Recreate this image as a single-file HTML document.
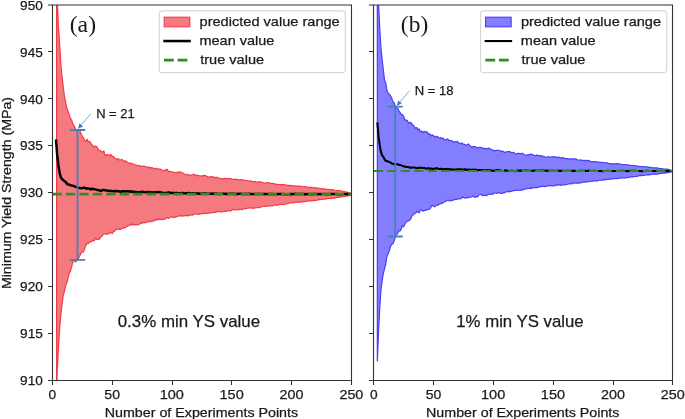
<!DOCTYPE html><html><head><meta charset="utf-8"><style>html,body{margin:0;padding:0;background:#fff;overflow:hidden}svg{display:block;filter:blur(0.3px)}text{font-family:"Liberation Sans",sans-serif}</style></head><body>
<svg width="685" height="419" viewBox="0 0 685 419">
<rect width="685" height="419" fill="#fff"/>
<clipPath id="ca"><rect x="52.4" y="5" width="299.1" height="375.4"/></clipPath>
<g clip-path="url(#ca)">
<path d="M56.59 -37.36 L57.19 -1 L58.38 25.79 L59.58 42.49 L60.77 63.52 L61.97 76.18 L63.17 86.09 L64.36 95.85 L65.56 102.02 L66.76 107.79 L67.95 111.05 L69.15 114.41 L70.35 117.93 L71.54 119.98 L72.74 123.38 L73.94 125.44 L75.13 128.26 L76.33 131.09 L77.52 129.73 L78.72 130.28 L79.92 130.74 L81.11 133.85 L82.31 136.27 L83.51 137.82 L84.7 140.58 L85.9 141.37 L87.1 139.37 L88.29 141.85 L89.49 141.45 L90.68 142.67 L91.88 145.04 L93.08 145.54 L94.27 146.91 L95.47 146.03 L96.67 146.51 L97.86 149 L99.06 150.28 L100.26 150.53 L101.45 151.41 L102.65 152.08 L103.85 150.79 L105.04 155.6 L106.24 154.7 L107.43 154.8 L108.63 154.75 L109.83 155.71 L111.02 154.47 L112.22 156.69 L113.42 156.4 L114.61 158.12 L115.81 158.76 L117.01 159.64 L118.2 158.44 L119.4 160.2 L120.59 159.99 L121.79 159.37 L122.99 160.39 L124.18 161.71 L125.38 160.67 L126.58 161.68 L127.77 162.64 L128.97 162.96 L130.17 163.32 L131.36 163.13 L132.56 164.25 L133.76 164.1 L134.95 164.71 L136.15 165.01 L137.34 165.53 L138.54 165.51 L139.74 165.48 L140.93 166.57 L142.13 166.39 L143.33 166.2 L144.52 166.21 L145.72 166.71 L146.92 167.2 L148.11 166.99 L149.31 167.18 L150.5 168.04 L151.7 167.62 L152.9 168.04 L154.09 168.73 L155.29 168.41 L156.49 168.63 L157.68 168.76 L158.88 169.05 L160.08 169.17 L161.27 169.55 L162.47 170.25 L163.67 170.8 L164.86 170.41 L166.06 169.46 L167.25 169.4 L168.45 171.71 L169.65 171.22 L170.84 171.52 L172.04 172.04 L173.24 172.15 L174.43 172.18 L175.63 172.68 L176.83 172.59 L178.02 172.15 L179.22 171.83 L180.41 172.23 L181.61 172.22 L182.81 172.91 L184 173.73 L185.2 174.74 L186.4 174.62 L187.59 174.4 L188.79 175.16 L189.99 174.94 L191.18 175.55 L192.38 174.73 L193.58 174.22 L194.77 174.79 L195.97 175.67 L197.16 175.19 L198.36 175.48 L199.56 176.02 L200.75 175.88 L201.95 175.73 L203.15 175.86 L204.34 175.32 L205.54 175.59 L206.74 176.31 L207.93 176.84 L209.13 177.1 L210.32 176.83 L211.52 176.6 L212.72 177.03 L213.91 176.97 L215.11 177.6 L216.31 177.47 L217.5 177.42 L218.7 177.97 L219.9 178.48 L221.09 178.67 L222.29 178.58 L223.49 178.91 L224.68 178.25 L225.88 179.09 L227.07 178.52 L228.27 178.22 L229.47 178.73 L230.66 178.52 L231.86 179.35 L233.06 179.23 L234.25 179.45 L235.45 179.21 L236.65 179.38 L237.84 179.7 L239.04 179.78 L240.23 179.87 L241.43 179.53 L242.63 179.65 L243.82 180.5 L245.02 180.21 L246.22 180.56 L247.41 180.74 L248.61 180.96 L249.81 181.09 L251 180.97 L252.2 181.77 L253.4 181.6 L254.59 181.63 L255.79 181.71 L256.98 182.02 L258.18 182.19 L259.38 181.87 L260.57 181.85 L261.77 182.22 L262.97 182.61 L264.16 182.81 L265.36 183.21 L266.56 182.92 L267.75 182.65 L268.95 182.74 L270.14 183.53 L271.34 183.41 L272.54 183.42 L273.73 183.69 L274.93 184.03 L276.13 184.11 L277.32 184.53 L278.52 184.51 L279.72 184.4 L280.91 184.69 L282.11 184.53 L283.31 184.84 L284.5 184.39 L285.7 185.09 L286.89 185.53 L288.09 185.2 L289.29 185.66 L290.48 185.39 L291.68 185.58 L292.88 185.83 L294.07 185.8 L295.27 186.15 L296.47 186.01 L297.66 186.07 L298.86 186.11 L300.05 186.04 L301.25 186.4 L302.45 186.67 L303.64 186.77 L304.84 186.55 L306.04 186.93 L307.23 187.35 L308.43 187.14 L309.63 187.53 L310.82 187.47 L312.02 187.41 L313.22 187.75 L314.41 187.9 L315.61 187.69 L316.8 187.93 L318 188 L319.2 188.23 L320.39 188.51 L321.59 188.8 L322.79 188.83 L323.98 188.66 L325.18 189.01 L326.38 189.29 L327.57 189.38 L328.77 189.54 L329.96 189.74 L331.16 189.62 L332.36 189.86 L333.55 189.93 L334.75 190.24 L335.95 190.49 L337.14 190.63 L338.34 190.72 L339.54 190.64 L340.73 190.92 L341.93 191.15 L343.13 191.37 L344.32 191.54 L345.52 191.88 L346.71 192.06 L347.91 192.38 L349.11 192.85 L350.3 193.26 L351.5 193.3 L351.5 194.9 L350.3 195.22 L349.11 195.45 L347.91 195.85 L346.71 195.95 L345.52 196.29 L344.32 196.5 L343.13 196.77 L341.93 196.72 L340.73 196.93 L339.54 197.34 L338.34 197.43 L337.14 197.42 L335.95 197.68 L334.75 198.07 L333.55 198 L332.36 198.2 L331.16 198.55 L329.96 198.26 L328.77 198.5 L327.57 198.53 L326.38 198.91 L325.18 199.04 L323.98 199.21 L322.79 199.54 L321.59 199.26 L320.39 199.75 L319.2 199.43 L318 199.84 L316.8 200.09 L315.61 200.5 L314.41 200.56 L313.22 200.41 L312.02 200.6 L310.82 200.97 L309.63 200.91 L308.43 200.95 L307.23 201.04 L306.04 201.49 L304.84 201.59 L303.64 201.53 L302.45 201.96 L301.25 202.12 L300.05 201.69 L298.86 202.4 L297.66 202.27 L296.47 202.09 L295.27 202.1 L294.07 202.93 L292.88 202.6 L291.68 202.3 L290.48 202.89 L289.29 203.2 L288.09 203.18 L286.89 203.72 L285.7 203.98 L284.5 204.57 L283.31 204.44 L282.11 204.36 L280.91 204.34 L279.72 204.51 L278.52 204.62 L277.32 205.09 L276.13 205.14 L274.93 204.6 L273.73 205.56 L272.54 205.82 L271.34 205.8 L270.14 205.85 L268.95 205.81 L267.75 206.28 L266.56 206.11 L265.36 206.29 L264.16 206.12 L262.97 206.27 L261.77 206.79 L260.57 207.16 L259.38 207.57 L258.18 207.76 L256.98 207.76 L255.79 207.57 L254.59 208.28 L253.4 208.06 L252.2 207.81 L251 208.04 L249.81 207.54 L248.61 208.19 L247.41 208.19 L246.22 208.57 L245.02 208.62 L243.82 208.63 L242.63 209.58 L241.43 209.32 L240.23 209.28 L239.04 209.59 L237.84 209.58 L236.65 209.83 L235.45 209.98 L234.25 209.43 L233.06 209.59 L231.86 209.93 L230.66 211.02 L229.47 210.89 L228.27 210.4 L227.07 210.91 L225.88 211.43 L224.68 211.33 L223.49 211.27 L222.29 211.62 L221.09 211.85 L219.9 211.7 L218.7 211.77 L217.5 211.38 L216.31 211.84 L215.11 212.57 L213.91 212.35 L212.72 212.23 L211.52 213.01 L210.32 213 L209.13 212.82 L207.93 213.51 L206.74 213.44 L205.54 213.39 L204.34 213.23 L203.15 213.57 L201.95 213.66 L200.75 213.79 L199.56 214.19 L198.36 214.4 L197.16 213.95 L195.97 213.57 L194.77 214.24 L193.58 214.33 L192.38 215.24 L191.18 214.68 L189.99 215.23 L188.79 215.43 L187.59 216.03 L186.4 215.26 L185.2 215.97 L184 215.36 L182.81 216.2 L181.61 215.95 L180.41 215.7 L179.22 215.84 L178.02 216.17 L176.83 216.66 L175.63 216.9 L174.43 217.44 L173.24 217.55 L172.04 216.77 L170.84 216.84 L169.65 217.91 L168.45 218.36 L167.25 217.43 L166.06 218.66 L164.86 218.81 L163.67 219.38 L162.47 219.53 L161.27 219.04 L160.08 219.69 L158.88 219.12 L157.68 219.33 L156.49 220.3 L155.29 219.48 L154.09 220.68 L152.9 221.1 L151.7 220.9 L150.5 221.9 L149.31 221.16 L148.11 221.41 L146.92 222.47 L145.72 222.18 L144.52 222.98 L143.33 222.44 L142.13 223.29 L140.93 222.92 L139.74 223.71 L138.54 224.66 L137.34 224.84 L136.15 224.72 L134.95 224.43 L133.76 225.12 L132.56 223.64 L131.36 225.17 L130.17 224.59 L128.97 225.46 L127.77 225.98 L126.58 226.81 L125.38 227.52 L124.18 228.05 L122.99 227.95 L121.79 228.43 L120.59 229.39 L119.4 229.36 L118.2 228.93 L117.01 229.27 L115.81 229.63 L114.61 231.08 L113.42 231.46 L112.22 233.68 L111.02 232.59 L109.83 232.64 L108.63 233.95 L107.43 233.61 L106.24 234.3 L105.04 234.04 L103.85 233.47 L102.65 235.22 L101.45 236.59 L100.26 237.66 L99.06 239.59 L97.86 238.98 L96.67 239.46 L95.47 237.78 L94.27 240.74 L93.08 240.2 L91.88 241.36 L90.68 241.83 L89.49 241.75 L88.29 243.73 L87.1 243.18 L85.9 245.34 L84.7 248.45 L83.51 251.83 L82.31 251.87 L81.11 253.02 L79.92 255.41 L78.72 257.93 L77.52 258.81 L76.33 261.34 L75.13 261.82 L73.94 259.25 L72.74 262.45 L71.54 267.31 L70.35 271.46 L69.15 273.16 L67.95 278.66 L66.76 282.83 L65.56 285.88 L64.36 291.63 L63.17 295.86 L61.97 304.8 L60.77 315.46 L59.58 329.45 L58.38 349.01 L57.19 372.17 L56.59 405.62Z" fill="#f47a80" stroke="#f43a47" stroke-width="1.2" stroke-linejoin="round"/>
<path d="M55.99 139.5 L57.19 155 L58.38 165 L59.58 172.6 L60.77 177.07 L61.97 179.09 L63.17 180.07 L64.36 181.17 L65.56 181.76 L66.76 183.59 L67.95 184.5 L69.15 184.58 L70.35 185.15 L71.54 185.47 L72.74 185.76 L73.94 186.06 L75.13 186.54 L76.33 187.11 L77.52 187.65 L78.72 187.88 L79.92 187.92 L81.11 188.22 L82.31 188.08 L83.51 187.7 L84.7 187.73 L85.9 188.62 L87.1 188.17 L88.29 188.42 L89.49 188.87 L90.68 189.41 L91.88 188.7 L93.08 188.9 L94.27 189.17 L95.47 189.36 L96.67 189.7 L97.86 190.13 L99.06 190.25 L100.26 190.72 L101.45 190.67 L102.65 190.11 L103.85 189.97 L105.04 190.24 L106.24 190.38 L107.43 190.77 L108.63 190.86 L109.83 190.99 L111.02 190.93 L112.22 191.07 L113.42 191.17 L114.61 191.11 L115.81 191.28 L117.01 190.95 L118.2 191.37 L119.4 191.45 L120.59 191.97 L121.79 191.55 L122.99 191.15 L124.18 191.24 L125.38 191.39 L126.58 191.35 L127.77 191.27 L128.97 191.45 L130.17 191.32 L131.36 191.83 L132.56 191.47 L133.76 191.82 L134.95 192.04 L136.15 192.02 L137.34 192.24 L138.54 192.13 L139.74 192.23 L140.93 191.92 L142.13 191.78 L143.33 191.91 L144.52 192.11 L145.72 192.37 L146.92 192.02 L148.11 192.06 L149.31 192.06 L150.5 192.41 L151.7 192.26 L152.9 192.59 L154.09 192.41 L155.29 192.3 L156.49 192.3 L157.68 192.12 L158.88 191.9 L160.08 192.28 L161.27 192.39 L162.47 193.02 L163.67 192.9 L164.86 192.98 L166.06 192.88 L167.25 192.81 L168.45 192.55 L169.65 192.54 L170.84 193.1 L172.04 192.9 L173.24 192.87 L174.43 193.13 L175.63 193.02 L176.83 193.01 L178.02 193.48 L179.22 193.31 L180.41 193.13 L181.61 193.09 L182.81 193.03 L184 193.25 L185.2 193.38 L186.4 193.21 L187.59 193.24 L188.79 193 L189.99 193.21 L191.18 193.49 L192.38 193.26 L193.58 193.38 L194.77 193.32 L195.97 193.41 L197.16 193.54 L198.36 193.47 L199.56 193.68 L200.75 193.76 L201.95 193.79 L203.15 193.59 L204.34 193.43 L205.54 193.53 L206.74 193.63 L207.93 193.65 L209.13 193.65 L210.32 193.68 L211.52 193.66 L212.72 193.76 L213.91 193.58 L215.11 193.72 L216.31 193.78 L217.5 193.7 L218.7 194.11 L219.9 193.9 L221.09 193.84 L222.29 193.68 L223.49 193.78 L224.68 193.82 L225.88 193.93 L227.07 193.81 L228.27 193.94 L229.47 193.74 L230.66 193.82 L231.86 193.67 L233.06 193.81 L234.25 193.93 L235.45 193.75 L236.65 193.92 L237.84 193.96 L239.04 193.77 L240.23 193.78 L241.43 193.84 L242.63 193.96 L243.82 194.1 L245.02 193.94 L246.22 193.87 L247.41 193.91 L248.61 193.69 L249.81 193.96 L251 193.97 L252.2 193.96 L253.4 194.13 L254.59 194.01 L255.79 193.93 L256.98 194.09 L258.18 193.98 L259.38 194.01 L260.57 193.98 L261.77 194 L262.97 194.03 L264.16 194.05 L265.36 193.91 L266.56 194.12 L267.75 194.01 L268.95 193.97 L270.14 194.09 L271.34 194 L272.54 194.06 L273.73 194.15 L274.93 194.15 L276.13 194.02 L277.32 194.13 L278.52 194.04 L279.72 193.95 L280.91 193.93 L282.11 194.03 L283.31 193.97 L284.5 194.15 L285.7 194.15 L286.89 194.13 L288.09 194.18 L289.29 194.18 L290.48 194 L291.68 194.28 L292.88 193.97 L294.07 194.04 L295.27 193.86 L296.47 193.96 L297.66 193.98 L298.86 193.89 L300.05 194.06 L301.25 194.06 L302.45 194.06 L303.64 193.95 L304.84 194.16 L306.04 194.07 L307.23 194.13 L308.43 193.93 L309.63 194.16 L310.82 194.06 L312.02 194.16 L313.22 194.05 L314.41 194.05 L315.61 194.11 L316.8 194.08 L318 194.28 L319.2 194.12 L320.39 194.06 L321.59 194.18 L322.79 194.12 L323.98 194 L325.18 194.03 L326.38 194.14 L327.57 194.1 L328.77 194.2 L329.96 194 L331.16 194.09 L332.36 194.01 L333.55 194.03 L334.75 194.01 L335.95 193.98 L337.14 194.29 L338.34 194.17 L339.54 194.19 L340.73 194.16 L341.93 194.31 L343.13 194.11 L344.32 193.97 L345.52 194.12 L346.71 194.01 L347.91 194.22 L349.11 194.05 L350.3 194.06 L351.5 194.16" fill="none" stroke="#000" stroke-width="2.5" stroke-linejoin="round"/>
<line x1="52.4" y1="194.1" x2="351.5" y2="194.1" stroke="#318c22" stroke-width="2.6" stroke-dasharray="9.4 4.05"/>
</g>
<path d="M52.5 5H351.5V380.5H52.5Z" fill="none" stroke="#333" stroke-width="1.1"/>
<path d="M48 380.5H52.5M48 333.5H52.5M48 286.5H52.5M48 239.5H52.5M48 192.5H52.5M48 145.5H52.5M48 98.5H52.5M48 51.5H52.5M48 5H52.5M52.5 380.5V385M112.5 380.5V385M172.5 380.5V385M231.5 380.5V385M291.5 380.5V385M351.5 380.5V385" stroke="#333" stroke-width="1.05" fill="none"/>
<rect x="159.2" y="10.9" width="186.2" height="61.8" rx="3.5" fill="#fff" fill-opacity="0.8" stroke="#d8d8d8" stroke-width="1.2"/>
<rect x="164.2" y="17.2" width="25.6" height="9.6" fill="#f47a80" stroke="#f43a47" stroke-width="1.1"/>
<line x1="163.3" y1="41.05" x2="190.8" y2="41.05" stroke="#000" stroke-width="2.55"/>
<line x1="164" y1="60.1" x2="190.6" y2="60.1" stroke="#318c22" stroke-width="2.6" stroke-dasharray="9.8 3.8"/>
<clipPath id="cb"><rect x="373.75" y="5" width="299.1" height="375.4"/></clipPath>
<g clip-path="url(#cb)">
<path d="M377.34 -28.44 L378.54 2.68 L379.73 28.23 L380.93 47.79 L382.12 59.28 L383.32 69.45 L384.52 80.15 L385.71 82.8 L386.91 89.93 L388.11 93.2 L389.3 94.15 L390.5 95.78 L391.7 98.14 L392.89 101.8 L394.09 102.77 L395.29 105.9 L396.48 107.76 L397.68 108.24 L398.87 110.73 L400.07 112.61 L401.27 114.45 L402.46 114.71 L403.66 116.28 L404.86 120.02 L406.05 120.13 L407.25 120.36 L408.45 123.16 L409.64 122.65 L410.84 122.38 L412.03 124.2 L413.23 124.97 L414.43 126.81 L415.62 128.46 L416.82 127.51 L418.02 130.12 L419.21 128.97 L420.41 131.74 L421.61 131.1 L422.8 132.45 L424 131.38 L425.2 132.02 L426.39 131.46 L427.59 132.42 L428.78 134.7 L429.98 133.78 L431.18 136.01 L432.37 134.95 L433.57 135.66 L434.77 137.03 L435.96 136.41 L437.16 136.64 L438.36 137.13 L439.55 138.13 L440.75 137.52 L441.94 138.9 L443.14 138.01 L444.34 139.88 L445.53 139.93 L446.73 139.14 L447.93 139.19 L449.12 140.77 L450.32 140.29 L451.52 140.84 L452.71 141.36 L453.91 141.95 L455.11 141.88 L456.3 141.94 L457.5 141.39 L458.69 142.87 L459.89 143.32 L461.09 143.84 L462.28 142.93 L463.48 144.51 L464.68 144.38 L465.87 145 L467.07 145 L468.27 143.98 L469.46 145.46 L470.66 145.97 L471.85 147.67 L473.05 146.42 L474.25 146.72 L475.44 146.5 L476.64 147.92 L477.84 147.87 L479.03 147.27 L480.23 147.22 L481.43 147.56 L482.62 148.08 L483.82 148.57 L485.02 148.42 L486.21 148.94 L487.41 148.7 L488.6 147.93 L489.8 148.65 L491 149.39 L492.19 149.73 L493.39 150.77 L494.59 150.26 L495.78 150.94 L496.98 150.26 L498.18 150.04 L499.37 150.73 L500.57 150.74 L501.76 151.58 L502.96 151.16 L504.16 152.39 L505.35 152.12 L506.55 151.91 L507.75 151.48 L508.94 151.59 L510.14 151.59 L511.34 152.59 L512.53 152.67 L513.73 152.26 L514.93 153.7 L516.12 154.11 L517.32 153.47 L518.51 153.46 L519.71 153.51 L520.91 153.67 L522.1 153.2 L523.3 153.96 L524.5 154.76 L525.69 155.16 L526.89 155.09 L528.09 154.76 L529.28 154.87 L530.48 154.11 L531.67 154.39 L532.87 154.83 L534.07 155.19 L535.26 155.79 L536.46 155.12 L537.66 155.32 L538.85 155.41 L540.05 156.13 L541.25 155.58 L542.44 156.1 L543.64 156.58 L544.84 156.73 L546.03 157.27 L547.23 156.97 L548.42 156.5 L549.62 157.41 L550.82 156.98 L552.01 156.76 L553.21 156.82 L554.41 156.71 L555.6 157.05 L556.8 157.11 L558 157.6 L559.19 157.16 L560.39 157.55 L561.58 158.2 L562.78 157.65 L563.98 157.95 L565.17 158.58 L566.37 158.52 L567.57 158.68 L568.76 159.1 L569.96 158.78 L571.16 159.25 L572.35 158.49 L573.55 158.88 L574.75 159.11 L575.94 158.97 L577.14 159.49 L578.33 160.26 L579.53 160.01 L580.73 159.75 L581.92 160.48 L583.12 160.37 L584.32 160.61 L585.51 160.13 L586.71 160.9 L587.91 160.53 L589.1 160.46 L590.3 161.19 L591.49 161.85 L592.69 161.65 L593.89 161.83 L595.08 161.69 L596.28 161.68 L597.48 161.99 L598.67 162.09 L599.87 162.37 L601.07 162.43 L602.26 162.5 L603.46 162.64 L604.66 162.65 L605.85 162.73 L607.05 162.83 L608.24 163.46 L609.44 163.54 L610.64 163.68 L611.83 163.79 L613.03 163.77 L614.23 163.92 L615.42 163.79 L616.62 163.62 L617.82 163.95 L619.01 163.8 L620.21 163.95 L621.4 164.31 L622.6 164.54 L623.8 164.53 L624.99 164.76 L626.19 164.66 L627.39 164.92 L628.58 165.17 L629.78 165.1 L630.98 165.54 L632.17 165.51 L633.37 165.5 L634.57 165.57 L635.76 165.78 L636.96 166.01 L638.15 166.31 L639.35 166.31 L640.55 166.47 L641.74 166.64 L642.94 166.58 L644.14 166.77 L645.33 166.6 L646.53 166.73 L647.73 167.05 L648.92 167.1 L650.12 167.58 L651.31 167.47 L652.51 167.86 L653.71 167.91 L654.9 167.92 L656.1 167.93 L657.3 167.91 L658.49 168.35 L659.69 168.55 L660.89 168.58 L662.08 168.61 L663.28 168.92 L664.48 169 L665.67 169.12 L666.87 169.19 L668.06 169.43 L669.26 169.67 L670.46 170.01 L671.65 170.41 L672.85 170.2 L672.85 171.8 L671.65 171.78 L670.46 172.02 L669.26 172.07 L668.06 172.52 L666.87 172.79 L665.67 172.85 L664.48 173.06 L663.28 173.2 L662.08 173.21 L660.89 173.51 L659.69 173.55 L658.49 173.81 L657.3 174.13 L656.1 174.16 L654.9 174.16 L653.71 174.08 L652.51 174.25 L651.31 174.37 L650.12 174.75 L648.92 174.91 L647.73 174.69 L646.53 175 L645.33 175.26 L644.14 175.17 L642.94 175.5 L641.74 175.6 L640.55 175.37 L639.35 175.65 L638.15 175.98 L636.96 176.3 L635.76 176.35 L634.57 176.55 L633.37 176.64 L632.17 176.91 L630.98 176.9 L629.78 177.07 L628.58 177.43 L627.39 177.75 L626.19 177.51 L624.99 178.06 L623.8 177.88 L622.6 178 L621.4 178 L620.21 177.92 L619.01 178.43 L617.82 178.49 L616.62 178.62 L615.42 178.65 L614.23 178.77 L613.03 178.66 L611.83 179.19 L610.64 178.66 L609.44 179.43 L608.24 179.36 L607.05 179.33 L605.85 179.68 L604.66 179.94 L603.46 179.66 L602.26 180.1 L601.07 180.2 L599.87 180.27 L598.67 180.32 L597.48 180.79 L596.28 180.79 L595.08 180.93 L593.89 180.97 L592.69 181.19 L591.49 181.11 L590.3 181.53 L589.1 181.77 L587.91 181.81 L586.71 181.51 L585.51 182.12 L584.32 181.84 L583.12 182.26 L581.92 182.35 L580.73 182.97 L579.53 182.58 L578.33 183.14 L577.14 183.12 L575.94 183.19 L574.75 183.16 L573.55 182.75 L572.35 183.8 L571.16 183.47 L569.96 183.86 L568.76 183.93 L567.57 184.22 L566.37 184.6 L565.17 184.53 L563.98 184.87 L562.78 184.79 L561.58 185.2 L560.39 185.46 L559.19 184.47 L558 185.08 L556.8 185.49 L555.6 184.83 L554.41 185.78 L553.21 185.8 L552.01 185.9 L550.82 185.6 L549.62 185.61 L548.42 185.83 L547.23 185.65 L546.03 186.52 L544.84 186.57 L543.64 186.46 L542.44 186.39 L541.25 186.58 L540.05 186.7 L538.85 186.87 L537.66 187.65 L536.46 187.66 L535.26 187.43 L534.07 187.96 L532.87 187.49 L531.67 188.34 L530.48 188.17 L529.28 188.38 L528.09 188.48 L526.89 188.74 L525.69 189.13 L524.5 188.77 L523.3 189.77 L522.1 190.16 L520.91 190.12 L519.71 190.3 L518.51 190.14 L517.32 189.9 L516.12 190.5 L514.93 190.26 L513.73 190.58 L512.53 191.02 L511.34 191.46 L510.14 191.3 L508.94 191.9 L507.75 191.24 L506.55 191.99 L505.35 192.01 L504.16 192.92 L502.96 192.67 L501.76 193.52 L500.57 193.36 L499.37 192.47 L498.18 192.92 L496.98 193.51 L495.78 192.75 L494.59 193.16 L493.39 193.4 L492.19 194.5 L491 194.51 L489.8 194.15 L488.6 194.12 L487.41 194.92 L486.21 195.74 L485.02 195.25 L483.82 195.46 L482.62 195.66 L481.43 194.49 L480.23 194.66 L479.03 194.76 L477.84 196.55 L476.64 196.49 L475.44 197.43 L474.25 196.97 L473.05 196.14 L471.85 196.73 L470.66 197.11 L469.46 197.29 L468.27 197.58 L467.07 197.43 L465.87 198.12 L464.68 197.91 L463.48 197.7 L462.28 196.83 L461.09 198.75 L459.89 199.01 L458.69 198.54 L457.5 199.14 L456.3 199.35 L455.11 199.33 L453.91 199.85 L452.71 200.28 L451.52 200.42 L450.32 201.01 L449.12 200.8 L447.93 200 L446.73 200.68 L445.53 201.56 L444.34 202.04 L443.14 202.45 L441.94 203.57 L440.75 203.32 L439.55 203.74 L438.36 205.11 L437.16 205.14 L435.96 205.37 L434.77 206.82 L433.57 206.31 L432.37 205.13 L431.18 206.93 L429.98 208.54 L428.78 209.52 L427.59 209.55 L426.39 210.1 L425.2 210.35 L424 210.62 L422.8 211.2 L421.61 210 L420.41 209.8 L419.21 212.7 L418.02 212.38 L416.82 211.32 L415.62 213.07 L414.43 213.36 L413.23 214.91 L412.03 215.88 L410.84 218.72 L409.64 220.28 L408.45 220.99 L407.25 221.16 L406.05 222 L404.86 224.27 L403.66 226.75 L402.46 225.67 L401.27 229.17 L400.07 231.04 L398.87 230.42 L397.68 233.41 L396.48 234.78 L395.29 236.77 L394.09 241.45 L392.89 243.83 L391.7 244.52 L390.5 246.49 L389.3 250.72 L388.11 253.71 L386.91 256.39 L385.71 264.1 L384.52 268.91 L383.32 273.61 L382.12 281.19 L380.93 290.35 L379.73 308.3 L378.54 331.83 L377.34 361Z" fill="#837efd" stroke="#4b3df8" stroke-width="1.2" stroke-linejoin="round"/>
<path d="M377.34 122.3 L378.54 136.3 L379.73 144.88 L380.93 151.87 L382.12 155.36 L383.32 156.74 L384.52 159.19 L385.71 160.9 L386.91 160.98 L388.11 161.43 L389.3 162.1 L390.5 162.53 L391.7 163.57 L392.89 163.67 L394.09 164.05 L395.29 164.74 L396.48 164.02 L397.68 164.24 L398.87 164.93 L400.07 165.08 L401.27 165.38 L402.46 165.85 L403.66 166.27 L404.86 166.72 L406.05 166.79 L407.25 167.05 L408.45 167.04 L409.64 167.61 L410.84 167.69 L412.03 167.44 L413.23 167.45 L414.43 167.55 L415.62 167.78 L416.82 168.31 L418.02 168.31 L419.21 167.42 L420.41 167.88 L421.61 167.61 L422.8 168.08 L424 168.06 L425.2 168.35 L426.39 168.77 L427.59 168.24 L428.78 168.18 L429.98 168.88 L431.18 168.47 L432.37 169.03 L433.57 168.79 L434.77 168.62 L435.96 168.36 L437.16 168.28 L438.36 168.75 L439.55 169.14 L440.75 168.84 L441.94 168.87 L443.14 169.26 L444.34 168.93 L445.53 168.9 L446.73 168.89 L447.93 169.18 L449.12 169.26 L450.32 168.95 L451.52 169.89 L452.71 169.31 L453.91 169.68 L455.11 169.57 L456.3 169.52 L457.5 169.21 L458.69 169.31 L459.89 169.37 L461.09 169.16 L462.28 169.84 L463.48 169.46 L464.68 169.16 L465.87 170.06 L467.07 169.55 L468.27 170.09 L469.46 169.45 L470.66 170.19 L471.85 169.59 L473.05 169.56 L474.25 169.94 L475.44 169.51 L476.64 169.97 L477.84 170.36 L479.03 170.06 L480.23 169.94 L481.43 170.07 L482.62 170.14 L483.82 170.19 L485.02 170.15 L486.21 170.16 L487.41 170 L488.6 170.28 L489.8 170.39 L491 170.25 L492.19 170.74 L493.39 170.75 L494.59 170.72 L495.78 170.3 L496.98 170.09 L498.18 170.21 L499.37 170.14 L500.57 170.43 L501.76 170.96 L502.96 170.98 L504.16 170.92 L505.35 170.18 L506.55 170.56 L507.75 170.76 L508.94 170.92 L510.14 170.74 L511.34 170.86 L512.53 170.74 L513.73 170.94 L514.93 171.23 L516.12 170.95 L517.32 170.57 L518.51 170.73 L519.71 170.48 L520.91 170.63 L522.1 170.8 L523.3 170.7 L524.5 170.54 L525.69 170.51 L526.89 170.46 L528.09 170.7 L529.28 170.66 L530.48 170.78 L531.67 170.85 L532.87 170.67 L534.07 170.56 L535.26 170.59 L536.46 170.67 L537.66 170.56 L538.85 170.79 L540.05 170.89 L541.25 170.46 L542.44 170.54 L543.64 170.57 L544.84 170.81 L546.03 170.64 L547.23 170.77 L548.42 170.65 L549.62 170.8 L550.82 170.74 L552.01 170.7 L553.21 170.83 L554.41 170.68 L555.6 170.89 L556.8 170.87 L558 170.81 L559.19 170.73 L560.39 170.74 L561.58 170.89 L562.78 170.64 L563.98 171.1 L565.17 170.84 L566.37 170.77 L567.57 170.73 L568.76 170.77 L569.96 170.67 L571.16 170.78 L572.35 170.88 L573.55 170.96 L574.75 170.79 L575.94 170.88 L577.14 170.92 L578.33 170.9 L579.53 170.89 L580.73 170.86 L581.92 170.71 L583.12 170.77 L584.32 170.94 L585.51 170.86 L586.71 171.01 L587.91 170.86 L589.1 170.84 L590.3 170.62 L591.49 170.93 L592.69 170.85 L593.89 170.71 L595.08 170.73 L596.28 170.9 L597.48 170.95 L598.67 170.99 L599.87 170.94 L601.07 170.92 L602.26 171.18 L603.46 171.24 L604.66 171.03 L605.85 170.92 L607.05 170.86 L608.24 170.93 L609.44 170.8 L610.64 171.01 L611.83 170.94 L613.03 171.05 L614.23 171.02 L615.42 171.08 L616.62 171.03 L617.82 171.04 L619.01 170.86 L620.21 170.95 L621.4 170.7 L622.6 170.87 L623.8 170.67 L624.99 170.95 L626.19 171.03 L627.39 171.14 L628.58 171.14 L629.78 170.71 L630.98 170.82 L632.17 170.8 L633.37 170.83 L634.57 170.73 L635.76 170.74 L636.96 170.98 L638.15 170.97 L639.35 170.96 L640.55 171.07 L641.74 171.25 L642.94 171.14 L644.14 171.02 L645.33 171 L646.53 170.7 L647.73 170.75 L648.92 170.97 L650.12 171.06 L651.31 170.93 L652.51 171.04 L653.71 171.05 L654.9 170.98 L656.1 170.86 L657.3 170.89 L658.49 170.93 L659.69 171.12 L660.89 170.73 L662.08 170.97 L663.28 170.94 L664.48 171.24 L665.67 171 L666.87 171.01 L668.06 171.13 L669.26 171.1 L670.46 171.13 L671.65 171.05 L672.85 170.96" fill="none" stroke="#000" stroke-width="2.05" stroke-linejoin="round"/>
<line x1="373.75" y1="171" x2="672.85" y2="171" stroke="#318c22" stroke-width="2.2" stroke-dasharray="9.4 4.05"/>
</g>
<path d="M373.5 5H672.5V380.5H373.5Z" fill="none" stroke="#333" stroke-width="1.1"/>
<path d="M369 380.5H373.5M369 333.5H373.5M369 286.5H373.5M369 239.5H373.5M369 192.5H373.5M369 145.5H373.5M369 98.5H373.5M369 51.5H373.5M369 5H373.5M373.5 380.5V385M433.5 380.5V385M493.5 380.5V385M553.5 380.5V385M613.5 380.5V385M672.5 380.5V385" stroke="#333" stroke-width="1.05" fill="none"/>
<rect x="480.55" y="10.9" width="186.2" height="61.8" rx="3.5" fill="#fff" fill-opacity="0.8" stroke="#d8d8d8" stroke-width="1.2"/>
<rect x="485.55" y="17.2" width="25.6" height="9.6" fill="#837efd" stroke="#4b3df8" stroke-width="1.1"/>
<line x1="484.65" y1="41.05" x2="512.15" y2="41.05" stroke="#000" stroke-width="2.1"/>
<line x1="485.35" y1="60.1" x2="511.95" y2="60.1" stroke="#318c22" stroke-width="2.6" stroke-dasharray="9.8 3.8"/>
<path d="M77.5 130V259.8 M69.8 130H85.2 M69.8 259.8H85.2" stroke="#4682b4" stroke-width="1.8" fill="none"/>
<path d="M395.2 106.7V236.5 M387.6 106.7H402.8 M387.6 236.5H402.8" stroke="#4682b4" stroke-width="1.8" fill="none"/>
<line x1="90.8" y1="113.8" x2="81.26" y2="124.91" stroke="#4472c4" stroke-width="0.85" stroke-opacity="0.75"/>
<path d="M78 128.7L79.44 123.34L83.08 126.47Z" fill="#4472c4"/>
<line x1="409.5" y1="90.8" x2="400.03" y2="101.98" stroke="#4472c4" stroke-width="0.85" stroke-opacity="0.75"/>
<path d="M396.8 105.8L398.2 100.43L401.86 103.53Z" fill="#4472c4"/>
<text x="20.08" y="385.05" font-size="13.22" textLength="22.77" lengthAdjust="spacingAndGlyphs" fill="#1a1a1a" stroke="#1a1a1a" stroke-width="0.25">910</text>
<text x="20.08" y="338.12" font-size="13.22" textLength="22.77" lengthAdjust="spacingAndGlyphs" fill="#1a1a1a" stroke="#1a1a1a" stroke-width="0.25">915</text>
<text x="20.08" y="291.2" font-size="13.22" textLength="22.77" lengthAdjust="spacingAndGlyphs" fill="#1a1a1a" stroke="#1a1a1a" stroke-width="0.25">920</text>
<text x="20.08" y="244.28" font-size="13.22" textLength="22.77" lengthAdjust="spacingAndGlyphs" fill="#1a1a1a" stroke="#1a1a1a" stroke-width="0.25">925</text>
<text x="20.08" y="197.35" font-size="13.22" textLength="22.77" lengthAdjust="spacingAndGlyphs" fill="#1a1a1a" stroke="#1a1a1a" stroke-width="0.25">930</text>
<text x="20.08" y="150.43" font-size="13.22" textLength="22.77" lengthAdjust="spacingAndGlyphs" fill="#1a1a1a" stroke="#1a1a1a" stroke-width="0.25">935</text>
<text x="20.08" y="103.5" font-size="13.22" textLength="22.77" lengthAdjust="spacingAndGlyphs" fill="#1a1a1a" stroke="#1a1a1a" stroke-width="0.25">940</text>
<text x="20.08" y="56.57" font-size="13.22" textLength="22.77" lengthAdjust="spacingAndGlyphs" fill="#1a1a1a" stroke="#1a1a1a" stroke-width="0.25">945</text>
<text x="20.08" y="9.65" font-size="13.22" textLength="22.77" lengthAdjust="spacingAndGlyphs" fill="#1a1a1a" stroke="#1a1a1a" stroke-width="0.25">950</text>
<text x="48.62" y="399.2" font-size="13.37" textLength="7.63" lengthAdjust="spacingAndGlyphs" fill="#1a1a1a" stroke="#1a1a1a" stroke-width="0.25">0</text>
<text x="104.34" y="399.2" font-size="13.37" textLength="15.62" lengthAdjust="spacingAndGlyphs" fill="#1a1a1a" stroke="#1a1a1a" stroke-width="0.25">50</text>
<text x="159.69" y="399.2" font-size="13.37" textLength="24.21" lengthAdjust="spacingAndGlyphs" fill="#1a1a1a" stroke="#1a1a1a" stroke-width="0.25">100</text>
<text x="219.51" y="399.2" font-size="13.37" textLength="24.21" lengthAdjust="spacingAndGlyphs" fill="#1a1a1a" stroke="#1a1a1a" stroke-width="0.25">150</text>
<text x="279.61" y="399.2" font-size="13.37" textLength="23.92" lengthAdjust="spacingAndGlyphs" fill="#1a1a1a" stroke="#1a1a1a" stroke-width="0.25">200</text>
<text x="339.43" y="399.2" font-size="13.37" textLength="23.92" lengthAdjust="spacingAndGlyphs" fill="#1a1a1a" stroke="#1a1a1a" stroke-width="0.25">250</text>
<text x="369.97" y="399.2" font-size="13.37" textLength="7.63" lengthAdjust="spacingAndGlyphs" fill="#1a1a1a" stroke="#1a1a1a" stroke-width="0.25">0</text>
<text x="425.7" y="399.2" font-size="13.37" textLength="15.62" lengthAdjust="spacingAndGlyphs" fill="#1a1a1a" stroke="#1a1a1a" stroke-width="0.25">50</text>
<text x="481.04" y="399.2" font-size="13.37" textLength="24.21" lengthAdjust="spacingAndGlyphs" fill="#1a1a1a" stroke="#1a1a1a" stroke-width="0.25">100</text>
<text x="540.86" y="399.2" font-size="13.37" textLength="24.21" lengthAdjust="spacingAndGlyphs" fill="#1a1a1a" stroke="#1a1a1a" stroke-width="0.25">150</text>
<text x="600.96" y="399.2" font-size="13.37" textLength="23.92" lengthAdjust="spacingAndGlyphs" fill="#1a1a1a" stroke="#1a1a1a" stroke-width="0.25">200</text>
<text x="660.78" y="399.2" font-size="13.37" textLength="23.92" lengthAdjust="spacingAndGlyphs" fill="#1a1a1a" stroke="#1a1a1a" stroke-width="0.25">250</text>
<text x="199.57" y="26.1" font-size="13.18" textLength="140.15" lengthAdjust="spacingAndGlyphs" fill="#1a1a1a" stroke="#1a1a1a" stroke-width="0.25">predicted value range</text>
<text x="199.48" y="45.2" font-size="13.18" textLength="74.86" lengthAdjust="spacingAndGlyphs" fill="#1a1a1a" stroke="#1a1a1a" stroke-width="0.25">mean value</text>
<text x="200.16" y="64.2" font-size="13.18" textLength="63.97" lengthAdjust="spacingAndGlyphs" fill="#1a1a1a" stroke="#1a1a1a" stroke-width="0.25">true value</text>
<text x="104.72" y="417.2" font-size="13.18" textLength="193.39" lengthAdjust="spacingAndGlyphs" fill="#1a1a1a" stroke="#1a1a1a" stroke-width="0.25">Number of Experiments Points</text>
<text x="520.92" y="26.1" font-size="13.18" textLength="140.15" lengthAdjust="spacingAndGlyphs" fill="#1a1a1a" stroke="#1a1a1a" stroke-width="0.25">predicted value range</text>
<text x="520.83" y="45.2" font-size="13.18" textLength="74.86" lengthAdjust="spacingAndGlyphs" fill="#1a1a1a" stroke="#1a1a1a" stroke-width="0.25">mean value</text>
<text x="521.51" y="64.2" font-size="13.18" textLength="63.97" lengthAdjust="spacingAndGlyphs" fill="#1a1a1a" stroke="#1a1a1a" stroke-width="0.25">true value</text>
<text x="426.07" y="417.2" font-size="13.18" textLength="193.39" lengthAdjust="spacingAndGlyphs" fill="#1a1a1a" stroke="#1a1a1a" stroke-width="0.25">Number of Experiments Points</text>
<text x="11.4" y="289.08" font-size="13.18" textLength="192.18" lengthAdjust="spacingAndGlyphs" fill="#1a1a1a" stroke="#1a1a1a" stroke-width="0.25" transform="rotate(-90 11.4 289.08)">Minimum Yield Strength (MPa)</text>
<text x="69.68" y="31.98" font-size="23.1" style="font-family:'Liberation Serif',serif" textLength="26.38" lengthAdjust="spacingAndGlyphs" fill="#1a1a1a">(a)</text>
<text x="400.88" y="31.98" font-size="23.1" style="font-family:'Liberation Serif',serif" textLength="27.31" lengthAdjust="spacingAndGlyphs" fill="#1a1a1a">(b)</text>
<text x="96.15" y="118.4" font-size="13.68" textLength="38.57" lengthAdjust="spacingAndGlyphs" fill="#1a1a1a" stroke="#1a1a1a" stroke-width="0.25">N = 21</text>
<text x="414.72" y="95.1" font-size="13.37" textLength="38.75" lengthAdjust="spacingAndGlyphs" fill="#1a1a1a" stroke="#1a1a1a" stroke-width="0.25">N = 18</text>
<text x="117.71" y="326.5" font-size="17.18" textLength="142.44" lengthAdjust="spacingAndGlyphs" fill="#1a1a1a" stroke="#1a1a1a" stroke-width="0.25">0.3% min YS value</text>
<text x="456.28" y="326.5" font-size="17.18" textLength="127.41" lengthAdjust="spacingAndGlyphs" fill="#1a1a1a" stroke="#1a1a1a" stroke-width="0.25">1% min YS value</text>
</svg></body></html>
